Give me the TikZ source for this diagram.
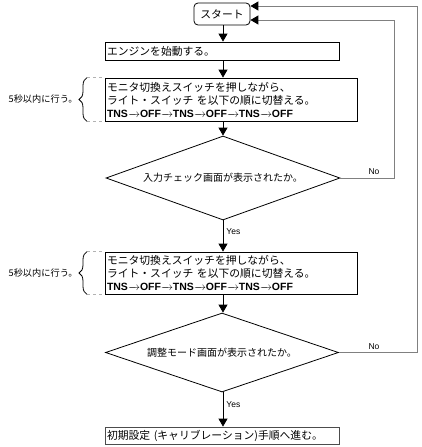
\documentclass[tikz,border=0pt]{standalone}
\usepackage{fontspec}
\setmainfont{Liberation Sans}
\newfontfamily\jp{Noto Sans CJK JP}
\usetikzlibrary{shapes.geometric,arrows.meta,decorations.pathreplacing}
\newcommand\tarrow{\hbox to 12pt{\rightarrowfill}}
\newcommand\tnsline{{\rmfamily\bfseries\fontsize{10.5}{13}\selectfont TNS\tarrow OFF\tarrow TNS\tarrow OFF\tarrow TNS\tarrow OFF}}
\tikzset{
  stepbox/.style = {draw, line width=0.8pt, inner xsep=2pt, inner ysep=0pt, align=left,
                    font=\jp\fontsize{10.8}{13}\selectfont},
  decide/.style  = {diamond, draw, line width=0.8pt, aspect=2.8, inner sep=0pt,
                    font=\jp\fontsize{10}{13}\selectfont},
  flow/.style    = {-{Triangle[width=9pt,length=8pt]}, line width=0.8pt},
  back/.style    = {draw=gray, line width=1pt, -{Triangle[width=9pt,length=8pt,color=black]}},
  lbl/.style     = {font=\fontsize{8.5}{10}\selectfont, inner sep=0pt}
}
\begin{document}
\begin{tikzpicture}[x=1pt,y=1pt]
  \useasboundingbox (0,0) rectangle (422,-447);

  % steps
  \node[stepbox, rounded corners=4pt, align=center, minimum width=56pt, minimum height=22pt] (start) at (222,-14) {スタート};
  \node[stepbox, text width=230pt, minimum height=18pt] (engine) at (222,-51) {エンジンを始動する。};
  \node[stepbox, text width=248pt, minimum height=43pt] (mon1) at (231,-99.5)
    {モニタ切換えスイッチを押しながら、\\ライト・スイッチ を以下の順に切替える。\\\tnsline};
  \node[decide, minimum width=234pt, minimum height=84pt] (chk1) at (223,-178) {入力チェック画面が表示されたか。};
  \node[stepbox, text width=248pt, minimum height=42pt] (mon2) at (231,-273)
    {モニタ切換えスイッチを押しながら、\\ライト・スイッチ を以下の順に切替える。\\\tnsline};
  \node[decide, minimum width=233pt, minimum height=79pt] (chk2) at (222,-352.5) {調整モード画面が表示されたか。};
  \node[stepbox, draw=black!70, text width=230pt, minimum height=17pt] (fin) at (222,-435.5) {初期設定 (キャリブレーション)手順へ進む。};

  % main flow
  \draw[flow] (start.south -| chk1.north) -- (engine.north -| chk1.north);
  \draw[flow] (engine.south -| chk1.north) -- (mon1.north -| chk1.north);
  \draw[flow] (mon1.south -| chk1.north) -- (chk1.north);
  \draw[flow] (chk1.south) -- (mon2.north -| chk1.south) node[lbl, pos=0.35, right=3pt] {Yes};
  \draw[flow] (mon2.south -| chk1.south) -- (chk2.north -| chk1.south);
  \draw[flow] (chk2.south -| chk1.south) -- (fin.north -| chk1.south) node[lbl, pos=0.35, right=3pt] {Yes};

  % loops back to start
  \coordinate (r1) at (394,-20);
  \coordinate (r2) at (417,-6);
  \draw[back] (chk1.east) -| (r1) -- (start.east |- r1);
  \draw[back] (chk2.east) -| (r2) -- (start.east |- r2);
  \node[lbl] (no1) at (374,-172) {No};
  \node[lbl] (no2) at (374,-347) {No};

  % braces
  \foreach \m in {mon1,mon2} {
    \coordinate (\m-t) at (\m.north west -| 87,0);
    \coordinate (\m-b) at (\m.south west -| 87,0);
    \draw[gray!60, dashed] (\m-t) -- (\m.north west);
    \draw[gray!60, dashed] (\m-b) -- (\m.south west);
    \draw[line width=0.8pt, decorate, decoration={brace, amplitude=8pt}] (\m-b) -- (\m-t)
      node[midway, left=9pt, inner sep=0pt, font=\jp\fontsize{9.2}{11}\selectfont] {5秒以内に行う。};
  }
\end{tikzpicture}
\end{document}
